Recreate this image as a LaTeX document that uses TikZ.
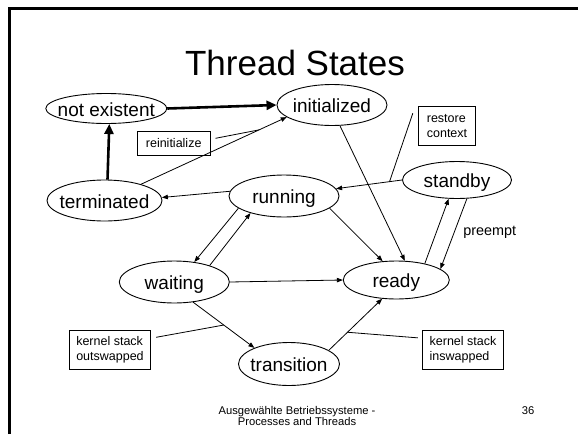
\documentclass[tikz,border=0pt]{standalone}
\usepackage{fontspec}
\setmainfont{Liberation Sans}
\usetikzlibrary{shapes.geometric,arrows.meta}
\newcommand{\stxt}[1]{\makebox[0pt]{\raisebox{-3pt}{#1}}}
\begin{document}
\begin{tikzpicture}[x=1pt,y=-1pt,
  state/.style={ellipse,draw,line width=0.9pt,inner sep=0pt,
    font=\fontsize{19}{22}\selectfont,text height=13.6pt,text depth=4pt},
  lbl/.style={rectangle,draw,line width=0.9pt,inner sep=0pt,align=left,
    font=\fontsize{12.5}{14.6}\selectfont},
  conn/.style={line width=0.8pt,-{Triangle[length=6pt,width=4.5pt]}},
  bigconn/.style={line width=2.6pt,-{Triangle[length=10pt,width=9pt]}},
  callout/.style={line width=0.8pt},
  frameline/.style={line width=2.6pt,line join=miter}]
\useasboundingbox (0,0) rectangle (578,434);
\draw[frameline] (9.6,434) -- (9.6,8.2) -- (578,8.2);

\node[font=\fontsize{35}{40}\selectfont,anchor=base] (title) at (295,75) {Thread States};

\node[state,minimum width=121pt,minimum height=30pt] (ne) at (106.3,108.5) {\stxt{not existent}};
\node[state,minimum width=110pt,minimum height=41pt] (init) at (332,105) {\stxt{initialized}};
\node[state,minimum width=115pt,minimum height=41pt] (term) at (104.5,200.5) {\stxt{terminated}};
\node[state,minimum width=110pt,minimum height=42pt] (run) at (284,196) {\stxt{running}};
\node[state,minimum width=109pt,minimum height=37pt] (stand) at (457,180) {\stxt{standby}};
\node[state,minimum width=110pt,minimum height=42pt] (wait) at (174.3,282) {\stxt{waiting}};
\node[state,minimum width=106pt,minimum height=38pt] (ready) at (396.3,280) {\stxt{ready}};
\node[state,minimum width=101pt,minimum height=43pt] (trans) at (289,364) {\stxt{transition}};

\node[lbl,minimum width=72.7pt,minimum height=23.3pt] (rein) at (173.7,143.3) {reinitialize};
\node[lbl,minimum width=57.4pt,minimum height=38.3pt] (rest) at (447,125.8) {restore\\context};
\node[lbl,minimum width=81.4pt,minimum height=38.3pt] (outbox) at (110,349.9) {kernel stack\\outswapped};
\node[lbl,minimum width=80.6pt,minimum height=38.6pt] (inbox) at (463,350) {kernel stack\\inswapped};

\node[font=\fontsize{14.4}{16}\selectfont] (pre) at (489.7,232.5) {preempt};

\node[font=\fontsize{11.2}{11}\selectfont,align=center] (foot) at (297,416) {Ausgewählte Betriebssysteme -\\Processes and Threads};
\node[font=\fontsize{11.2}{13}\selectfont] (pg) at (528,410.7) {36};

\draw[bigconn] (ne.east) -- (init.west);
\draw[bigconn] ([xshift=3pt]term.north) -- ([xshift=3pt]ne.south);
\draw[conn] (term.24) -- (init.195) coordinate[pos=0.81] (reinitpt);
\draw[callout] ([xshift=5pt,yshift=5pt]rein.east) -- (reinitpt);
\draw[conn] (run.175) -- (term.3);
\draw[conn] (stand.west) -- (run.8) coordinate[pos=0.19] (restpt);
\draw[callout] ([xshift=-5pt,yshift=-7pt]rest.north west) -- (restpt);
\draw[conn] (run.195) -- (wait.45);
\draw[conn] (wait.25) -- (run.207);
\draw[conn] (run.-15) -- (ready.126);
\draw[conn] (init.-69) -- (ready.66);
\draw[conn] (ready.30) -- (stand.-114);
\draw[conn] (stand.-62) -- (ready.14);
\draw[conn] (wait.east) -- (ready.west);
\draw[conn] (wait.-47) -- (trans.155) coordinate[pos=0.5] (outpt);
\draw[callout] ([xshift=5pt,yshift=-7pt]outbox.north east) -- (outpt);
\draw[conn] (trans.19) -- (ready.233) coordinate[pos=0.35] (inpt);
\draw[callout] (inpt) -- ([xshift=-4.4pt,yshift=-7.6pt]inbox.north west);
\end{tikzpicture}
\end{document}
